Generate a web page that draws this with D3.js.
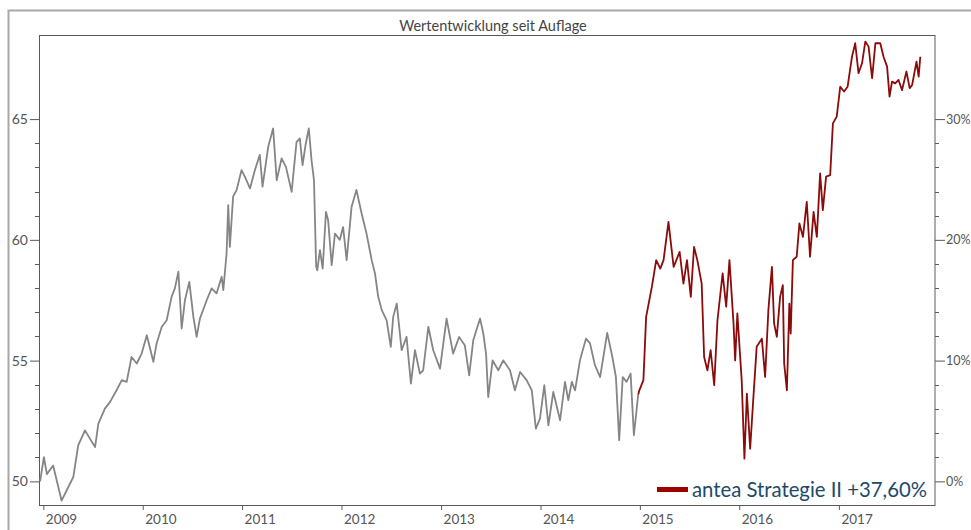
<!DOCTYPE html>
<html>
<head>
<meta charset="utf-8">
<script src="https://cdn.jsdelivr.net/npm/d3@7"></script>
<style>
  html, body { margin: 0; padding: 0; background: #fff; }
  svg { display: block; }
</style>
</head>
<body>
<svg id="chart" width="971" height="530"></svg>
<script>
// ---------------- DATA ----------------
const title = "Wertentwicklung seit Auflage";
const legendLabel = "antea Strategie II +37,60%";
const yearTicks = ["2009-01-01","2010-01-01","2011-01-01","2012-01-01","2013-01-01","2014-01-01","2015-01-01","2016-01-01","2017-01-01"];
const leftTicks = [50, 55, 60, 65];
const rightTicks = [0, 0.1, 0.2, 0.3];

const grayDates = [
"2008-12-20","2009-01-03","2009-01-14","2009-02-06","2009-03-09","2009-04-21","2009-05-09","2009-06-03","2009-06-21","2009-07-10",
"2009-07-22","2009-08-15","2009-09-03","2009-09-27","2009-10-16","2009-11-03","2009-11-21","2009-12-10","2009-12-28","2010-01-16",
"2010-02-09","2010-02-21","2010-03-12","2010-03-30","2010-04-17","2010-04-29","2010-05-12","2010-05-24","2010-06-05","2010-06-21",
"2010-07-06","2010-07-18","2010-07-30","2010-08-24","2010-09-11","2010-09-29","2010-10-18","2010-10-24","2010-11-05","2010-11-11",
"2010-11-17","2010-11-29","2010-12-12","2010-12-30","2011-01-11","2011-01-30","2011-02-17","2011-03-07","2011-03-17","2011-04-07",
"2011-04-25","2011-05-08","2011-05-26","2011-06-11","2011-07-02","2011-07-20","2011-08-01","2011-08-11","2011-08-23","2011-09-03",
"2011-09-13","2011-09-22","2011-09-26","2011-09-30","2011-10-04","2011-10-14","2011-10-24","2011-11-05","2011-11-13","2011-11-26",
"2011-12-08","2011-12-26","2012-01-07","2012-01-20","2012-02-07","2012-02-25","2012-03-15","2012-04-02","2012-04-21","2012-05-03",
"2012-05-15","2012-05-28","2012-06-15","2012-06-30","2012-07-09","2012-07-22","2012-08-09","2012-08-27","2012-09-12","2012-09-27",
"2012-10-15","2012-10-27","2012-11-15","2012-12-03","2012-12-28","2013-01-21","2013-02-14","2013-03-08","2013-03-29","2013-04-14",
"2013-04-29","2013-05-24","2013-06-05","2013-06-15","2013-06-23","2013-07-09","2013-07-30","2013-08-17","2013-09-11","2013-09-29",
"2013-10-18","2013-11-11","2013-11-30","2013-12-15","2013-12-30","2014-01-15","2014-01-30","2014-02-17","2014-03-14","2014-04-01",
"2014-04-13","2014-04-26","2014-05-08","2014-05-26","2014-06-17","2014-07-02","2014-07-20","2014-08-08","2014-09-03","2014-09-22",
"2014-10-05","2014-10-17","2014-10-30","2014-11-13","2014-11-28","2014-12-10","2014-12-26"
];
const grayValues = [
50.0, 51.0, 50.3, 50.66, 49.2, 50.18, 51.49, 52.11, 51.77, 51.42,
52.39, 53.01, 53.29, 53.77, 54.19, 54.12, 55.15, 54.88, 55.29, 56.05,
54.95, 55.71, 56.40, 56.67, 57.64, 57.99, 58.68, 56.33, 57.5, 58.26,
56.81, 55.98, 56.74, 57.5, 57.99, 57.78, 58.47, 57.92, 59.44, 61.44,
59.71, 61.79, 62.07, 62.89, 62.62, 62.13, 62.89, 63.52, 62.2, 63.86,
64.61, 62.47, 63.37, 63.02, 61.99, 64.06, 64.2, 63.09, 63.99, 64.61,
63.30, 62.47, 60.68, 58.9, 58.74, 59.57, 58.81, 61.16, 60.81, 58.95,
60.26, 60.0, 60.53, 59.16, 61.36, 62.07, 61.09, 60.26, 59.16, 58.61,
57.64, 57.09, 56.67, 55.57, 56.81, 57.36, 55.43, 55.98, 54.05, 55.43,
54.46, 54.6, 56.40, 55.43, 54.67, 56.74, 55.29, 55.98, 55.64, 54.39,
55.84, 56.74, 56.12, 55.29, 53.49, 55.01, 54.6, 55.01, 54.6, 53.77,
54.53, 54.19, 53.77, 52.18, 52.6, 53.98, 52.32, 53.70, 52.53, 54.12,
53.36, 54.12, 53.77, 55.01, 55.91, 55.71, 54.81, 54.32, 56.15, 55.15,
54.32, 51.70, 54.32, 54.12, 54.46, 51.91, 53.6
];

const redDates = [
"2014-12-26","2014-12-30","2015-01-14","2015-01-24","2015-02-14","2015-03-02","2015-03-17","2015-03-29","2015-04-16","2015-05-05",
"2015-05-27","2015-06-10","2015-06-23","2015-07-07","2015-07-19","2015-07-31","2015-08-16","2015-08-25","2015-09-06","2015-09-18",
"2015-10-01","2015-10-13","2015-11-01","2015-11-14","2015-11-26","2015-12-11","2015-12-17","2015-12-25","2016-01-10","2016-01-20",
"2016-01-29","2016-02-10","2016-02-22","2016-03-05","2016-03-24","2016-04-05","2016-04-17","2016-04-30","2016-05-08","2016-05-18",
"2016-05-30","2016-06-09","2016-06-14","2016-06-24","2016-07-03","2016-07-08","2016-07-16","2016-07-30","2016-08-09","2016-08-22",
"2016-09-05","2016-09-17","2016-09-30","2016-10-12","2016-10-24","2016-11-03","2016-11-15","2016-11-30","2016-12-10","2016-12-24",
"2017-01-06","2017-01-20","2017-02-02","2017-02-18","2017-03-02","2017-03-14","2017-03-27","2017-04-08","2017-04-20","2017-05-03",
"2017-05-15","2017-06-02","2017-06-14","2017-06-27","2017-07-06","2017-07-15","2017-07-27","2017-08-08","2017-08-21","2017-09-06",
"2017-09-18","2017-09-27","2017-10-13","2017-10-21","2017-10-27"
];
const redValues = [
53.6, 53.77, 54.19, 56.81, 58.05, 59.16, 58.81, 59.16, 60.74, 58.88,
59.50, 58.19, 59.16, 57.64, 59.71, 59.16, 58.19, 55.15, 54.60, 55.43,
53.98, 56.67, 58.61, 57.23, 59.16, 56.54, 55.01, 56.95, 54.19, 50.94,
53.63, 51.35, 53.49, 55.57, 55.91, 54.32, 57.09, 58.88, 56.54, 55.98,
57.64, 58.12, 54.88, 53.77, 57.36, 56.12, 59.16, 59.30, 60.68, 60.12,
61.57, 59.30, 61.16, 60.12, 62.75, 61.23, 62.62, 62.68, 64.82, 65.1,
66.34, 66.14, 66.34, 67.58, 68.14, 66.90, 67.31, 68.21, 68.0, 66.69,
68.14, 68.14, 67.58, 67.17, 65.93, 66.55, 66.48, 66.62, 66.2, 66.97,
66.28, 66.41, 67.38, 66.76, 67.58
];

// ---------------- CHART ----------------
const parse = d3.utcParse("%Y-%m-%d");
const svg = d3.select("#chart");
const plot = { left: 39, right: 935, top: 36, bottom: 506 };
const axisColor = "#5a5a5a";
const textColor = "#555";
const font = "Lato, 'Open Sans', sans-serif";

const x = d3.scaleUtc()
  .domain([parse("2008-12-16"), parse("2017-12-20")])
  .range([plot.left, plot.right]);
const y = d3.scaleLinear().domain([48.98, 68.44]).range([plot.bottom, plot.top]);
const yPct = d3.scaleLinear().domain([(48.98 - 50) / 50, (68.44 - 50) / 50]).range([plot.bottom, plot.top]);

// outer frame
svg.append("path")
  .attr("d", `M8.5,530 L8.5,10.5 L971,10.5`)
  .attr("fill", "none").attr("stroke", "#a8a8a8").attr("stroke-width", 2);

// title
svg.append("text")
  .attr("x", 493).attr("y", 31)
  .attr("text-anchor", "middle")
  .attr("font-family", font).attr("font-size", 14.5)
  .attr("fill", "#444")
  .text(title);

// plot frame
svg.append("rect")
  .attr("x", plot.left + 0.5).attr("y", plot.top - 0.5)
  .attr("width", plot.right - plot.left - 0.5).attr("height", plot.bottom - plot.top)
  .attr("fill", "#fff").attr("stroke", axisColor).attr("stroke-width", 1);

// left axis
const leftMinor = d3.range(50, 65.01, 1).filter(v => !leftTicks.includes(v));
const gL = svg.append("g").attr("transform", `translate(${plot.left},0)`);
gL.selectAll("line.minor").data(leftMinor).join("line")
  .attr("x1", -4).attr("x2", 0)
  .attr("y1", d => Math.round(y(d)) + 0.5).attr("y2", d => Math.round(y(d)) + 0.5)
  .attr("stroke", axisColor);
const leftAxis = d3.axisLeft(y).tickValues(leftTicks).tickSize(9).tickPadding(2).tickFormat(d3.format("d"));
gL.call(leftAxis);
gL.select(".domain").remove();
gL.selectAll(".tick line").attr("stroke", axisColor);
gL.selectAll(".tick text").attr("font-family", font).attr("font-size", 14).attr("fill", textColor);

// right axis
const rightMinor = d3.range(0, 0.3001, 0.02).map(v => +v.toFixed(2)).filter(v => !rightTicks.some(t => Math.abs(t - v) < 1e-9));
const gR = svg.append("g").attr("transform", `translate(${plot.right},0)`);
gR.selectAll("line.minor").data(rightMinor).join("line")
  .attr("x1", 0).attr("x2", 4)
  .attr("y1", d => Math.round(yPct(d)) + 0.5).attr("y2", d => Math.round(yPct(d)) + 0.5)
  .attr("stroke", axisColor);
const rightAxis = d3.axisRight(yPct).tickValues(rightTicks).tickSize(10).tickPadding(1).tickFormat(d3.format(".0%"));
gR.call(rightAxis);
gR.select(".domain").remove();
gR.selectAll(".tick line").attr("stroke", axisColor);
gR.selectAll(".tick text").attr("font-family", font).attr("font-size", 12.5).attr("fill", textColor);

// bottom axis
const gB = svg.append("g").attr("transform", `translate(0,${plot.bottom})`);
const bottomAxis = d3.axisBottom(x).tickValues(yearTicks.map(parse)).tickSize(4).tickFormat(d3.utcFormat("%Y"));
gB.call(bottomAxis);
gB.select(".domain").remove();
gB.selectAll(".tick line").attr("stroke", axisColor);
gB.selectAll(".tick text")
  .attr("font-family", font).attr("font-size", 13.5).attr("fill", textColor)
  .attr("text-anchor", "start").attr("x", 2).attr("y", 8);

// lines
const line = d3.line().x(d => x(d[0])).y(d => y(d[1]));
const grayData = grayDates.map((d, i) => [parse(d), grayValues[i]]);
const redData = redDates.map((d, i) => [parse(d), redValues[i]]);

svg.append("path").datum(grayData)
  .attr("d", line).attr("fill", "none")
  .attr("stroke", "#858585").attr("stroke-width", 1.8).attr("stroke-linejoin", "round");
svg.append("path").datum(redData)
  .attr("d", line).attr("fill", "none")
  .attr("stroke", "#8b0a0a").attr("stroke-width", 1.8).attr("stroke-linejoin", "round");

// legend
const lg = svg.append("g");
lg.append("rect").attr("x", 657).attr("y", 487).attr("width", 31).attr("height", 5).attr("fill", "#9e0000");
lg.append("text").attr("x", 692).attr("y", 497)
  .attr("font-family", font).attr("font-size", 20.3).attr("fill", "#1d4a68")
  .text(legendLabel);
</script>
</body>
</html>
